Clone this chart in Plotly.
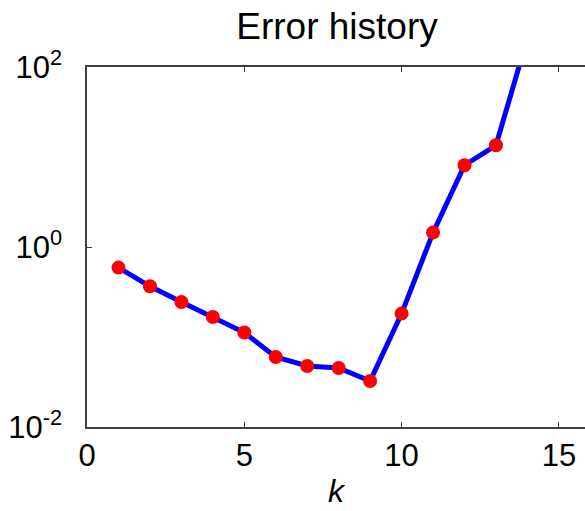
import plotly.graph_objects as go

k = [1, 2, 3, 4, 5, 6, 7, 8, 9, 10, 11, 12, 13, 14]
err = [0.59, 0.366, 0.245, 0.167, 0.112, 0.060, 0.0476, 0.0453, 0.0324,
       0.182, 1.445, 8.1, 13.5, 210]

ytickvals = [1e-2, 1e0, 1e2]
yticktext = ["10<sup>-2</sup>", "10<sup>0</sup>", "10<sup>2</sup>"]
xtickvals = [0, 5, 10, 15]

fig = go.Figure()
fig.add_trace(go.Scatter(
    x=k, y=err, mode="lines+markers",
    line=dict(color="#0000ff", width=5),
    marker=dict(color="#ff0000", size=14, line=dict(width=0)),
    cliponaxis=True, showlegend=False,
))

font_family = "Liberation Sans, Arial, sans-serif"
fig.update_layout(
    width=585, height=511,
    margin=dict(l=87, r=0, t=67, b=84),
    paper_bgcolor="white", plot_bgcolor="white",
    font=dict(family=font_family, color="black", size=31),
    title=dict(text="Error history", x=0.502, xref="paper", xanchor="center",
               y=1 - 26 / 511, yref="container", yanchor="middle",
               font=dict(size=37, color="black")),
    xaxis=dict(range=[0, 15.83], tickvals=xtickvals, ticks="inside", ticklen=5,
               tickcolor="#404040", showline=True, linecolor="#404040", linewidth=1.5,
               mirror="ticks", showgrid=False, zeroline=False,
               title=dict(text="<i>k</i>", standoff=8, font=dict(size=32))),
    yaxis=dict(type="log", range=[-2, 2], tickvals=ytickvals, ticktext=yticktext,
               ticks="inside", ticklen=5, tickcolor="#404040", showline=True,
               linecolor="#404040", linewidth=1.5, mirror=False, showgrid=False,
               zeroline=False, ticklabelstandoff=17),
)

fig.write_html("out.html")
